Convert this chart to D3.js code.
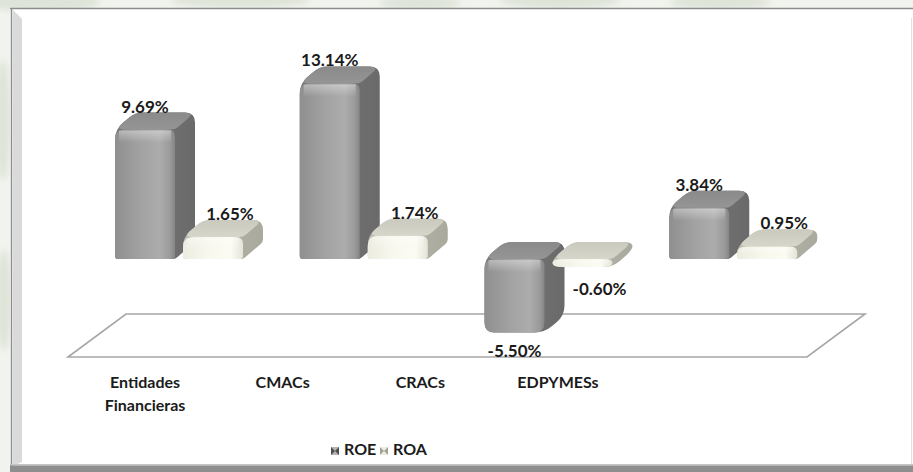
<!DOCTYPE html>
<html>
<head>
<meta charset="utf-8">
<script src="https://cdn.jsdelivr.net/npm/d3@7"></script>
<style>
  html, body { margin: 0; padding: 0; background: #eef1ea; }
  svg { display: block; }
  text { font-family: Lato, "Open Sans", sans-serif; font-weight: 700; fill: #1b1b1b; }
</style>
</head>
<body>
<svg id="chart" width="913" height="472"></svg>
<script>
// ---- data ----
const categories = ["Entidades Financieras", "CMACs", "CRACs", "EDPYMESs"];
const categoryLines = [["Entidades", "Financieras"], ["CMACs"], ["CRACs"], ["EDPYMESs"]];
const seriesNames = ["ROE", "ROA"];
const roeValues = [9.69, 13.14, -5.50, 3.84];
const roaValues = [1.65, 1.74, -0.60, 0.95];
const valueDomain = [-8, 14];

const W = 913, H = 472;
const svg = d3.select("#chart");
const defs = svg.append("defs");

// ---- scales ----
const y = d3.scaleLinear().domain(valueDomain).range([366, 72]);
const x = d3.scaleBand().domain(categories).range([100, 839]).padding(0);
const xs = d3.scaleBand().domain(seriesNames).range([15, 151]).padding(0);
const xLabel = d3.scalePoint().domain(categories).range([145, 558]);
const fmt = v => (v < 0 ? "-" : "") + d3.format(".2f")(Math.abs(v)) + "%";

const barW = 60, depthX = 20, depthY = -17;

// ---- gradients ----
function linGrad(id, stops, vertical) {
  const g = defs.append("linearGradient").attr("id", id)
    .attr("x1", 0).attr("y1", 0).attr("x2", vertical ? 0 : 1).attr("y2", vertical ? 1 : 0);
  stops.forEach(s => g.append("stop").attr("offset", s[0]).attr("stop-color", s[1])
    .attr("stop-opacity", s[2] == null ? 1 : s[2]));
}
linGrad("roeFront", [[0, "#8f8f8f"], [0.45, "#a3a3a3"], [0.75, "#acacac"], [0.92, "#9a9a9a"], [1, "#858585"]]);
linGrad("roeSide", [[0, "#7a7a7a"], [1, "#6a6a6a"]]);
linGrad("roeTop", [[0, "#8a8a8a"], [1, "#959595"]], true);
linGrad("roaFront", [[0, "#ecece0"], [0.45, "#f8f8ee"], [0.8, "#fbfbf3"], [1, "#e4e4d8"]]);
linGrad("roaSide", [[0, "#bdbdb1"], [1, "#a9a99d"]]);
linGrad("roaTop", [[0, "#c9c9bd"], [1, "#d6d6ca"]], true);
linGrad("gloss", [[0, "#ffffff", 0.35], [1, "#ffffff", 0]], true);

const palette = {
  ROE: { front: "url(#roeFront)", side: "url(#roeSide)", top: "url(#roeTop)" },
  ROA: { front: "url(#roaFront)", side: "url(#roaSide)", top: "url(#roaTop)" }
};

// ---- page background, soft shapes outside the frame ----
const bg = svg.append("g");
bg.append("rect").attr("width", W).attr("height", H).attr("fill", "#f1f3ee");
defs.append("filter").attr("id", "soft").append("feGaussianBlur").attr("stdDeviation", 3);
[[40, 2, 60, 10], [240, 0, 70, 8], [420, 3, 40, 7], [560, 0, 60, 9], [720, 2, 50, 8], [3, 120, 8, 60], [4, 300, 8, 50]]
  .forEach(e => bg.append("ellipse").attr("cx", e[0]).attr("cy", e[1]).attr("rx", e[2]).attr("ry", e[3])
    .attr("fill", "#d3dacb").attr("opacity", 0.6).attr("filter", "url(#soft)"));

// ---- chart frame ----
const frame = svg.append("g");
frame.append("rect").attr("x", 10).attr("y", 8).attr("width", W - 10).attr("height", H - 8).attr("fill", "#ffffff");
frame.append("path").attr("d", "M13,10 L22,19 L22,462 L13,466 Z").attr("fill", "#dadada");
frame.append("line").attr("x1", 10).attr("x2", W).attr("y1", 8.5).attr("y2", 8.5).attr("stroke", "#8c8c8c").attr("stroke-width", 1.5);
frame.append("line").attr("x1", 11.5).attr("x2", 11.5).attr("y1", 8).attr("y2", H).attr("stroke", "#8c8c8c").attr("stroke-width", 1.5);
frame.append("line").attr("x1", 911.5).attr("x2", 911.5).attr("y1", 18).attr("y2", 464).attr("stroke", "#e2e2e2");
frame.append("rect").attr("x", 10).attr("y", 464).attr("width", W - 10).attr("height", 1.5).attr("fill", "#c4c4c4");
frame.append("rect").attr("x", 10).attr("y", 465.5).attr("width", W - 10).attr("height", 6.5).attr("fill", "#8e8e8e");

// ---- floor ----
const floorFront = y(valueDomain[0]) - 9, floorDX = 58, floorDY = -43;
const floorLeft = x.range()[0] - 32, floorRight = x.range()[1] - 32;
svg.append("path")
  .attr("d", `M${floorLeft},${floorFront} L${floorRight},${floorFront} L${floorRight + floorDX},${floorFront + floorDY} L${floorLeft + floorDX},${floorFront + floorDY} Z`)
  .attr("fill", "#ffffff").attr("stroke", "#a6a6a6").attr("stroke-width", 1.6);

// ---- rounded 3D columns ----
function roundPoly(pts, radii) {
  const n = pts.length;
  let d = "";
  for (let i = 0; i < n; i++) {
    const p = pts[i], prev = pts[(i - 1 + n) % n], next = pts[(i + 1) % n];
    const l1 = Math.hypot(prev[0] - p[0], prev[1] - p[1]);
    const l2 = Math.hypot(next[0] - p[0], next[1] - p[1]);
    const r1 = Math.min(radii[i], l1 / 2), r2 = Math.min(radii[i], l2 / 2);
    const a = [p[0] + (prev[0] - p[0]) * r1 / l1, p[1] + (prev[1] - p[1]) * r1 / l1];
    const b = [p[0] + (next[0] - p[0]) * r2 / l2, p[1] + (next[1] - p[1]) * r2 / l2];
    d += (i === 0 ? "M" : "L") + a[0] + "," + a[1] + " Q" + p[0] + "," + p[1] + " " + b[0] + "," + b[1] + " ";
  }
  return d + "Z";
}

function drawColumn(g, x0, v, series) {
  const c = palette[series];
  const yt = v >= 0 ? y(v) : y(0);
  const yb = v >= 0 ? y(0) : y(v);
  const x1 = x0 + barW;
  const rTop = 10, rBot = v >= 0 ? 3 : 10;
  // whole silhouette in the side colour
  g.append("path").attr("fill", c.side).attr("d", roundPoly([
    [x0, yb], [x0, yt], [x0 + depthX, yt + depthY], [x1 + depthX, yt + depthY],
    [x1 + depthX, yb + depthY], [x1, yb]
  ], [rBot, rTop, 8, rTop, rBot, rBot]));
  // top face
  g.append("path").attr("fill", c.top).attr("d", roundPoly([
    [x0, yt], [x0 + depthX, yt + depthY], [x1 + depthX, yt + depthY], [x1, yt]
  ], [rTop, 8, rTop, 4]));
  // front face
  g.append("path").attr("fill", c.front).attr("d", roundPoly([
    [x0, yb], [x0, yt], [x1, yt], [x1, yb]
  ], [rBot, rTop, 7, rBot]));
  // soft highlight along the upper front edge
  const gh = Math.min(12, (yb - yt) / 2);
  g.append("rect").attr("x", x0 + 4).attr("y", yt + 1).attr("width", barW - 8).attr("height", gh)
    .attr("fill", "url(#gloss)");
}

const bars = svg.append("g");
categories.forEach((cat, i) => {
  drawColumn(bars, x(cat) + xs("ROE"), roeValues[i], "ROE");
  drawColumn(bars, x(cat) + xs("ROA"), roaValues[i], "ROA");
});

// ---- value labels ----
const labels = svg.append("g").attr("text-anchor", "middle").style("font-size", "17px");
function valueLabel(cat, v, series) {
  const cx = x(cat) + xs(series) + barW / 2 + (series === "ROA" ? 17 : 0);
  const yy = v >= 0 ? y(v) + depthY : y(v) + (series === "ROA" ? 28 : 24);
  labels.append("text").attr("x", cx).attr("y", yy).text(fmt(v));
}
categories.forEach((cat, i) => {
  valueLabel(cat, roeValues[i], "ROE");
  valueLabel(cat, roaValues[i], "ROA");
});

// ---- category labels ----
const catG = svg.append("g").attr("text-anchor", "middle").style("font-size", "16px");
categories.forEach((cat, i) => {
  const t = catG.append("text").attr("x", xLabel(cat)).attr("y", 388);
  categoryLines[i].forEach((line, j) => {
    t.append("tspan").attr("x", xLabel(cat)).attr("dy", j === 0 ? 0 : 23).text(line);
  });
});

// ---- legend ----
const legend = svg.append("g").style("font-size", "16px");
const legendColors = {
  ROE: { base: "#b5b5b5", edge: "#4e4e4e" },
  ROA: { base: "#eeeee4", edge: "#a3a397" }
};
const legendX = d3.scaleOrdinal().domain(seriesNames).range([331, 380]);
seriesNames.forEach(s => {
  const lx = legendX(s), ly = 447, sz = 8;
  const col = legendColors[s];
  legend.append("rect").attr("x", lx).attr("y", ly).attr("width", sz).attr("height", sz).attr("fill", col.base);
  legend.append("path").attr("fill", col.edge)
    .attr("d", `M${lx},${ly} L${lx + sz / 2},${ly + sz / 2} L${lx},${ly + sz} Z M${lx + sz},${ly} L${lx + sz / 2},${ly + sz / 2} L${lx + sz},${ly + sz} Z`);
  legend.append("text").attr("x", lx + 13).attr("y", 455).text(s);
});
</script>
</body>
</html>
